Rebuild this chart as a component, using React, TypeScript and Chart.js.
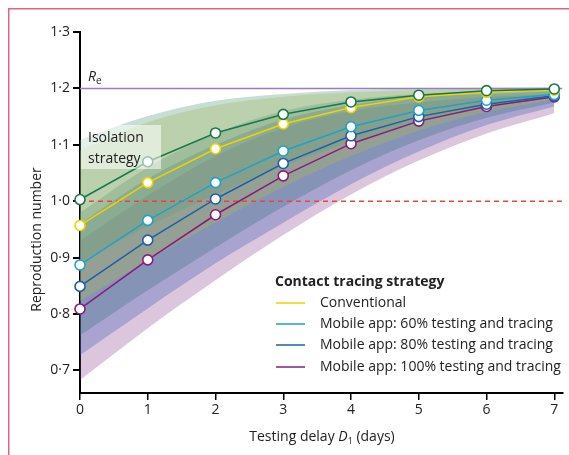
import React, { useEffect, useRef } from "react";
import { Chart, registerables } from "chart.js";
Chart.register(...registerables);

// ---------- data ----------
const DELAYS = [0, 1, 2, 3, 4, 5, 6, 7];
const X_TICKS = [0, 1, 2, 3, 4, 5, 6, 7];
const Y_TICKS = [0.7, 0.8, 0.9, 1.0, 1.1, 1.2, 1.3];
const X_MIN = 0;
const X_MAX = 7.12;
const Y_MIN = 0.66;
const Y_MAX = 1.3;
const RE_VALUE = 1.2;
const THRESHOLD = 1.0;

const ISOLATION_LABEL = ["Isolation", "strategy"];
const LEGEND_TITLE = "Contact tracing strategy";
const SERIES_LABELS = [
  "Isolation strategy",
  "Conventional",
  "Mobile app: 60% testing and tracing",
  "Mobile app: 80% testing and tracing",
  "Mobile app: 100% testing and tracing",
];

const ISOLATION = [1.003, 1.07, 1.121, 1.154, 1.176, 1.188, 1.196, 1.199];
const CONVENTIONAL = [0.957, 1.033, 1.093, 1.137, 1.166, 1.185, 1.193, 1.197];
const APP60 = [0.887, 0.966, 1.033, 1.089, 1.132, 1.161, 1.179, 1.189];
const APP80 = [0.849, 0.931, 1.004, 1.067, 1.116, 1.15, 1.172, 1.187];
const APP100 = [0.809, 0.896, 0.976, 1.045, 1.102, 1.142, 1.168, 1.185];

const ISOLATION_LO = [0.893, 0.955, 1.012, 1.062, 1.105, 1.14, 1.167, 1.185];
const ISOLATION_HI = [1.109, 1.151, 1.178, 1.19, 1.197, 1.2, 1.201, 1.202];
const CONVENTIONAL_LO = [0.823, 0.895, 0.962, 1.025, 1.08, 1.125, 1.158, 1.18];
const CONVENTIONAL_HI = [1.09, 1.14, 1.17, 1.185, 1.193, 1.197, 1.2, 1.2];
const APP60_LO = [0.762, 0.842, 0.918, 0.99, 1.055, 1.108, 1.148, 1.175];
const APP60_HI = [0.98, 1.06, 1.12, 1.16, 1.18, 1.19, 1.195, 1.198];
const APP80_LO = [0.727, 0.81, 0.89, 0.962, 1.03, 1.088, 1.135, 1.168];
const APP80_HI = [0.96, 1.04, 1.1, 1.145, 1.17, 1.185, 1.19, 1.195];
const APP100_LO = [0.683, 0.775, 0.86, 0.94, 1.012, 1.072, 1.12, 1.156];
const APP100_HI = [0.93, 1.01, 1.08, 1.13, 1.16, 1.175, 1.185, 1.19];

// ---------- styles ----------
const FONT = '"Open Sans", "DejaVu Sans", sans-serif';
const LINE_COLORS = ["#17794a", "#f2d200", "#1ea2c6", "#1f5ea8", "#8b1a7c"];
const BAND_COLORS = [
  "rgba(100,160,125,0.35)",
  "rgba(185,190,70,0.30)",
  "rgba(50,110,125,0.30)",
  "rgba(60,95,175,0.33)",
  "rgba(140,65,145,0.30)",
];

const toPts = (ys: number[]) => DELAYS.map((x, i) => ({ x, y: ys[i] }));

const overlay = {
  id: "overlay",
  afterDatasetsDraw(chart: any) {
    const ctx = chart.ctx;
    ctx.save();
    ctx.fillStyle = "rgba(255,255,255,0.55)";
    ctx.fillRect(81, 125, 80, 44);
    ctx.fillStyle = "#222";
    ctx.font = `14px ${FONT}`;
    ctx.textBaseline = "middle";
    ctx.textAlign = "left";
    ctx.fillText(ISOLATION_LABEL[0], 88, 138);
    ctx.fillText(ISOLATION_LABEL[1], 88, 159);
    ctx.restore();
  },
  afterDraw(chart: any) {
    const ctx = chart.ctx;
    const area = chart.chartArea;
    ctx.save();
    // frame
    ctx.strokeStyle = "#d66a86";
    ctx.lineWidth = 1.5;
    ctx.beginPath();
    ctx.moveTo(8.75, 455);
    ctx.lineTo(8.75, 8.75);
    ctx.lineTo(569, 8.75);
    ctx.stroke();

    // Re label
    const yRe = chart.scales.y.getPixelForValue(RE_VALUE);
    ctx.fillStyle = "#222";
    ctx.textBaseline = "alphabetic";
    ctx.textAlign = "left";
    ctx.font = `italic 14px ${FONT}`;
    ctx.fillText("R", 88, yRe - 7);
    const rw = ctx.measureText("R").width;
    ctx.font = `10px ${FONT}`;
    ctx.fillText("e", 88 + rw, yRe - 4);

    // y title
    ctx.save();
    ctx.translate(37, (area.top + area.bottom) / 2 + 27);
    ctx.rotate(-Math.PI / 2);
    ctx.font = `14px ${FONT}`;
    ctx.textAlign = "center";
    ctx.textBaseline = "middle";
    ctx.fillText("Reproduction number", 0, 0);
    ctx.restore();

    // x title
    const parts = [
      { t: "Testing delay ", f: `14px ${FONT}`, dy: 0 },
      { t: "D", f: `italic 14px ${FONT}`, dy: 0 },
      { t: "1", f: `9px ${FONT}`, dy: 3 },
      { t: " (days)", f: `14px ${FONT}`, dy: 0 },
    ];
    let total = 0;
    for (const p of parts) {
      ctx.font = p.f;
      total += ctx.measureText(p.t).width;
    }
    let x = 322 - total / 2;
    const base = 441;
    for (const p of parts) {
      ctx.font = p.f;
      ctx.fillText(p.t, x, base + p.dy);
      x += ctx.measureText(p.t).width;
    }

    // legend
    ctx.font = `bold 14px ${FONT}`;
    ctx.textBaseline = "middle";
    ctx.fillText(LEGEND_TITLE, 275, 282);
    const rows = [303, 324, 345, 367];
    for (let i = 1; i < SERIES_LABELS.length; i++) {
      const y = rows[i - 1];
      ctx.strokeStyle = LINE_COLORS[i];
      ctx.lineWidth = 1.5;
      ctx.beginPath();
      ctx.moveTo(276, y);
      ctx.lineTo(305, y);
      ctx.stroke();
      ctx.font = `14px ${FONT}`;
      ctx.fillStyle = "#222";
      ctx.fillText(SERIES_LABELS[i], 320, y);
    }
    ctx.restore();
  },
};

export default function App() {
  const ref = useRef<HTMLCanvasElement>(null);
  useEffect(() => {
    if (!ref.current) return;
    const series = [ISOLATION, CONVENTIONAL, APP60, APP80, APP100];
    const los = [ISOLATION_LO, CONVENTIONAL_LO, APP60_LO, APP80_LO, APP100_LO];
    const his = [ISOLATION_HI, CONVENTIONAL_HI, APP60_HI, APP80_HI, APP100_HI];

    const lineSets = series.map((s, i) => ({
      label: SERIES_LABELS[i],
      data: toPts(s),
      borderColor: LINE_COLORS[i],
      borderWidth: 1.5,
      pointRadius: 5,
      pointBorderWidth: 1.6,
      pointBackgroundColor: "#ffffff",
      pointBorderColor: LINE_COLORS[i],
      tension: 0,
      fill: false,
      clip: false,
      order: 1,
    }));
    const refSets = [
      {
        label: "Re",
        data: [
          { x: X_MIN, y: RE_VALUE },
          { x: X_MAX, y: RE_VALUE },
        ],
        borderColor: "#9b7cc4",
        borderWidth: 1.5,
        pointRadius: 0,
        fill: false,
        order: 2,
      },
      {
        label: "threshold",
        data: [
          { x: X_MIN, y: THRESHOLD },
          { x: X_MAX, y: THRESHOLD },
        ],
        borderColor: "#e8463c",
        borderWidth: 1.5,
        borderDash: [5, 4],
        pointRadius: 0,
        fill: false,
        order: 2,
      },
    ];
    const bandSets: any[] = [];
    series.forEach((_, i) => {
      bandSets.push({
        label: SERIES_LABELS[i] + " lo",
        data: toPts(los[i]),
        borderWidth: 0,
        borderColor: "rgba(0,0,0,0)",
        pointRadius: 0,
        cubicInterpolationMode: "monotone",
        fill: false,
        order: 3,
      });
      bandSets.push({
        label: SERIES_LABELS[i] + " hi",
        data: toPts(his[i]),
        borderWidth: 0,
        borderColor: "rgba(0,0,0,0)",
        backgroundColor: BAND_COLORS[i],
        pointRadius: 0,
        cubicInterpolationMode: "monotone",
        fill: "-1",
        order: 3,
      });
    });

    const chart = new Chart(ref.current, {
      type: "line",
      data: { datasets: [...lineSets, ...refSets, ...bandSets] as any },
      options: {
        responsive: false,
        animation: false,
        layout: { padding: { top: 32, right: 0, left: 0, bottom: 0 } },
        plugins: { legend: { display: false }, tooltip: { enabled: false } },
        scales: {
          x: {
            type: "linear",
            min: X_MIN,
            max: X_MAX,
            afterBuildTicks: (s: any) => {
              s.ticks = X_TICKS.map((v) => ({ value: v }));
            },
            afterFit: (s: any) => {
              s.height = 62;
              s.paddingLeft = 0;
              s.paddingRight = 0;
            },
            grid: {
              drawOnChartArea: false,
              drawTicks: true,
              tickLength: 7,
              color: "#000",
              lineWidth: 1.5,
            },
            border: { display: true, color: "#000", width: 2 },
            ticks: {
              color: "#222",
              padding: 2,
              font: { family: FONT, size: 14 },
              callback: (v: any) => String(v),
            },
          },
          y: {
            type: "linear",
            min: Y_MIN,
            max: Y_MAX,
            afterBuildTicks: (s: any) => {
              s.ticks = Y_TICKS.map((v) => ({ value: v }));
            },
            afterFit: (s: any) => {
              s.width = 80;
              s.paddingTop = 0;
              s.paddingBottom = 0;
            },
            grid: {
              drawOnChartArea: false,
              drawTicks: true,
              tickLength: 7,
              color: "#000",
              lineWidth: 2,
            },
            border: { display: true, color: "#000", width: 2 },
            ticks: {
              color: "#222",
              padding: 3,
              font: { family: FONT, size: 14 },
              callback: (v: any) => Number(v).toFixed(1).replace(".", "\u00b7"),
            },
          },
        },
      },
      plugins: [overlay],
    });
    return () => chart.destroy();
  }, []);

  return (
    <div style={{ position: "fixed", left: 0, top: 0, width: 569, height: 455, background: "#fff" }}>
      <canvas ref={ref} width={569} height={455} style={{ width: 569, height: 455, display: "block" }} />
    </div>
  );
}
